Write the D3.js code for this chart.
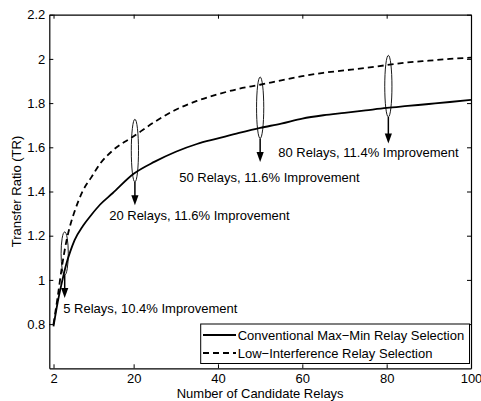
<!DOCTYPE html>
<html><head><meta charset="utf-8">
<script src="https://cdn.jsdelivr.net/npm/d3@7"></script>
<style>
html,body{margin:0;padding:0;background:#fff;}
svg{display:block;font-family:"Liberation Sans",Arial,Helvetica,sans-serif;}
</style></head>
<body>
<svg id="chart" width="481" height="401"></svg>
<script>
// ---- data ----
const relays = [1,2,3,4,5,6,8,10,12,15,20,25,30,35,40,45,50,55,60,65,70,75,80,85,90,95,100];
const conventional = [0.79,0.90,0.99,1.07,1.13,1.18,1.245,1.295,1.34,1.392,1.48,1.535,1.58,1.615,1.64,1.665,1.688,1.707,1.73,1.745,1.756,1.767,1.778,1.787,1.796,1.805,1.815];
const lowInterference = [0.80,0.925,1.06,1.17,1.25,1.31,1.405,1.465,1.525,1.585,1.65,1.715,1.77,1.81,1.84,1.865,1.883,1.903,1.922,1.937,1.948,1.959,1.972,1.984,1.992,2.0,2.006];
const seriesNames = ["Conventional Max\u2212Min Relay Selection","Low\u2212Interference Relay Selection"];
const xTickValues = [1,20,40,60,80,100];
const xTickLabels = ["2","20","40","60","80","100"];
const yTickValues = [0.8,1,1.2,1.4,1.6,1.8,2,2.2];
const yTickLabels = ["0.8","1","1.2","1.4","1.6","1.8","2","2.2"];
// annotations: x position, ellipse top, ellipse bottom, arrow tip, label x, label baseline, text
const annX      = [3.65, 20.3, 50, 80.4];
const annTop    = [1.217, 1.727, 1.918, 2.016];
const annBottom = [1.022, 1.443, 1.640, 1.737];
const annTip    = [0.918, 1.338, 1.534, 1.617];
const annTextX  = [3.3, 14.2, 30.8, 54.3];
const annTextY  = [0.849, 1.27, 1.443, 1.556];
const annText   = ["5 Relays, 10.4% Improvement","20 Relays, 11.6% Improvement","50 Relays, 11.6% Improvement","80 Relays, 11.4% Improvement"];

// ---- layout ----
const svg = d3.select("#chart");
const L = 49.3, R = 471, T = 14.7, B = 368.3;
const x = d3.scaleLinear().domain([0,100]).range([L,R]);
const y = d3.scaleLinear().domain([0.6,2.2]).range([B,T]);
const fs = 13;

// axes
const gx = svg.append("g").attr("transform",`translate(0,${B})`)
  .call(d3.axisBottom(x).tickValues(xTickValues).tickFormat((d,i)=>xTickLabels[i]).tickSizeInner(-4).tickSizeOuter(0).tickPadding(5.5));
const gxt = svg.append("g").attr("transform",`translate(0,${T})`)
  .call(d3.axisTop(x).tickValues(xTickValues).tickFormat("").tickSizeInner(-4).tickSizeOuter(0));
const gy = svg.append("g").attr("transform",`translate(${L},0)`)
  .call(d3.axisLeft(y).tickValues(yTickValues).tickFormat((d,i)=>yTickLabels[i]).tickSizeInner(-4).tickSizeOuter(0).tickPadding(4));
const gyr = svg.append("g").attr("transform",`translate(${R},0)`)
  .call(d3.axisRight(y).tickValues(yTickValues).tickFormat("").tickSizeInner(-4).tickSizeOuter(0));
[gx,gxt,gy,gyr].forEach(g=>{
  g.selectAll("path").attr("stroke","#000").attr("stroke-width",1.2);
  g.selectAll("line").attr("stroke","#000").attr("stroke-width",1);
  g.selectAll("text").attr("fill","#000").style("font-size",fs+"px").style("font-family","'Liberation Sans',Arial,sans-serif");
});

// axis titles
svg.append("text").attr("x",(L+R)/2).attr("y",398).attr("text-anchor","middle")
  .style("font-size",fs+"px").text("Number of Candidate Relays");
svg.append("text").attr("transform",`translate(21,${(T+B)/2}) rotate(-90)`).attr("text-anchor","middle")
  .style("font-size",fs+"px").text("Transfer Ratio (TR)");

// lines
const line = d3.line().x((d,i)=>x(relays[i])).y(d=>y(d)).curve(d3.curveMonotoneX);
svg.append("path").datum(conventional).attr("d",line).attr("fill","none").attr("stroke","#000").attr("stroke-width",1.8);
svg.append("path").datum(lowInterference).attr("d",line).attr("fill","none").attr("stroke","#000").attr("stroke-width",1.8).attr("stroke-dasharray","6,4");

// annotations
const ann = svg.append("g");
annX.forEach((ax,i)=>{
  const cx = x(ax), yt = y(annTop[i]), yb = y(annBottom[i]), tip = y(annTip[i]);
  ann.append("ellipse").attr("cx",cx).attr("cy",(yt+yb)/2).attr("rx",3.6).attr("ry",(yb-yt)/2)
    .attr("fill","none").attr("stroke","#000").attr("stroke-width",0.9);
  ann.append("line").attr("x1",cx).attr("x2",cx).attr("y1",yb).attr("y2",tip-8)
    .attr("stroke","#000").attr("stroke-width",1.5);
  ann.append("path").attr("d",`M${cx-3.6},${tip-10} L${cx+3.6},${tip-10} L${cx},${tip} Z`).attr("fill","#000");
  ann.append("text").attr("x",x(annTextX[i])).attr("y",y(annTextY[i])).style("font-size",fs+"px").text(annText[i]);
});

// legend
const lg = svg.append("g");
const lx0 = 200.7, ly0 = 324, lx1 = 469.5, ly1 = 363.5;
lg.append("rect").attr("x",lx0).attr("y",ly0).attr("width",lx1-lx0).attr("height",ly1-ly0)
  .attr("fill","#fff").attr("stroke","#000").attr("stroke-width",1);
const rowY = [335, 353];
seriesNames.forEach((name,i)=>{
  lg.append("line").attr("x1",203).attr("x2",236).attr("y1",rowY[i]).attr("y2",rowY[i])
    .attr("stroke","#000").attr("stroke-width",1.8).attr("stroke-dasharray",i===1?"6,4":null);
  lg.append("text").attr("x",237.7).attr("y",rowY[i]+4.5).style("font-size",fs+"px").text(name);
});
</script>
</body></html>
